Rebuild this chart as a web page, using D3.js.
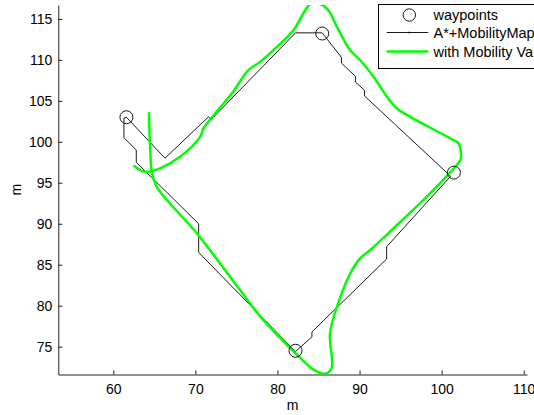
<!DOCTYPE html>
<html>
<head>
<meta charset="utf-8">
<script src="https://cdn.jsdelivr.net/npm/d3@7"></script>
<style>
  html, body { margin: 0; padding: 0; background: #fff; }
  svg { display: block; }
  text { font-family: Arial, "Liberation Sans", Helvetica, sans-serif; }
</style>
</head>
<body>
<svg id="chart" width="534" height="415"></svg>
<script>
// Waypoints visited by the route (metres)
const waypointsX = [61.6, 85.45, 101.5, 82.2];
const waypointsY = [103.0, 113.22, 96.24, 74.5];

// Grid planner path (A* over the mobility map), closed loop
const astarX = [61.6, 66.3, 71.6, 71.9, 82.2, 85.45, 87.8, 87.8, 89.5, 89.5, 90.6, 90.6,
                101.1, 93.3, 93.3, 84.2, 84.2, 82.2, 70.4, 70.4, 62.8, 62.8, 61.3, 61.3, 61.6];
const astarY = [103.0, 98.0, 103.05, 102.7, 113.3, 113.3, 110.3, 109.6, 108.0, 107.3, 106.3, 105.6,
                95.8, 87.2, 85.7, 76.8, 76.2, 74.4, 86.5, 90.0, 97.5, 99.0, 100.5, 102.9, 103.0];

// Smoothed trajectory using mobility values
const mobilityX = [64.35, 64.5, 64.7, 65.3, 70.2, 75.45, 77.9, 82.4, 84.4, 85.8, 86.6, 86.4,
                   87.4, 88.9, 90.1, 91.3, 94.1, 98.2, 100.7, 102.3, 102.36, 102.07, 101.06,
                   96.18, 94.56, 93.34, 91.71, 90.09, 88.87, 87.04, 86.22, 85.2, 84.0, 83.38,
                   81.95, 79.93, 77.89, 76.46, 74.44, 72.4, 70.98, 70.57, 68.13, 65.7, 64.07,
                   63.26, 62.56];
const mobilityY = [103.5, 99.0, 96.3, 94.5, 88.8, 81.9, 78.7, 74.0, 72.2, 71.7, 72.4, 76.6,
                   80.3, 84.0, 85.8, 86.8, 89.4, 93.3, 95.9, 97.8, 98.6, 99.8, 100.41,
                   103.05, 104.07, 105.49, 107.93, 109.96, 111.18, 114.44, 116.06, 116.8, 116.8, 116.06,
                   113.62, 111.59, 109.76, 108.74, 105.9, 103.46, 101.63, 100.61, 98.17, 96.76, 96.34,
                   96.55, 97.04];

const xTicks = [60, 70, 80, 90, 100, 110];
const yTicks = [75, 80, 85, 90, 95, 100, 105, 110, 115];
const legendLabels = ["waypoints", "A*+MobilityMap", "with Mobility Values"];

const svg = d3.select("#chart");
const plot = { left: 58.3, right: 527, top: 5, bottom: 374.5 };

const x = d3.scaleLinear().domain([53.3, 110.4]).range([plot.left, plot.right]);
const y = d3.scaleLinear().domain([71.6, 116.7]).range([plot.bottom, plot.top]);

svg.append("defs").append("clipPath").attr("id", "plotClip")
  .append("rect")
  .attr("x", plot.left).attr("y", plot.top)
  .attr("width", plot.right - plot.left).attr("height", plot.bottom - plot.top);

const fontSize = "14px";
const legendFontSize = "14.5px";

// Axes with inward ticks
const xAxis = d3.axisBottom(x).tickValues(xTicks).tickSizeInner(-4).tickSizeOuter(0).tickPadding(10);
const yAxis = d3.axisLeft(y).tickValues(yTicks).tickSizeInner(-4).tickSizeOuter(0).tickPadding(6);

const gx = svg.append("g").attr("transform", `translate(0,${plot.bottom})`).call(xAxis);
const gy = svg.append("g").attr("transform", `translate(${plot.left},0)`).call(yAxis);
[gx, gy].forEach(g => {
  g.select(".domain").attr("stroke", "#222").attr("stroke-width", 1);
  g.selectAll(".tick line").attr("stroke", "#222");
  g.selectAll(".tick text").attr("font-size", fontSize).attr("fill", "#000")
    .attr("font-family", "Arial, 'Liberation Sans', Helvetica, sans-serif");
});

svg.append("text").attr("x", (plot.left + plot.right) / 2).attr("y", 410)
  .attr("text-anchor", "middle").attr("font-size", fontSize).text("m");
svg.append("text").attr("transform", `translate(21,${(plot.top + plot.bottom) / 2}) rotate(-90)`)
  .attr("text-anchor", "middle").attr("font-size", fontSize).text("m");

const layer = svg.append("g").attr("clip-path", "url(#plotClip)");

// A* path
const astarLine = d3.line().x(i => x(astarX[i])).y(i => y(astarY[i]));
layer.append("path")
  .attr("d", astarLine(d3.range(astarX.length)))
  .attr("fill", "none").attr("stroke", "#000").attr("stroke-width", 0.9)
  .attr("stroke-linejoin", "miter");

// Mobility-value trajectory
const mobLine = d3.line().curve(d3.curveCatmullRom.alpha(0.5))
  .x(i => x(mobilityX[i])).y(i => y(mobilityY[i]));
layer.append("path")
  .attr("d", mobLine(d3.range(mobilityX.length)))
  .attr("fill", "none").attr("stroke", "#00ff00").attr("stroke-width", 2.5)
  .attr("stroke-linejoin", "round").attr("stroke-linecap", "round");

// Waypoint markers
svg.append("g").selectAll("circle")
  .data(d3.range(waypointsX.length))
  .join("circle")
  .attr("cx", i => x(waypointsX[i])).attr("cy", i => y(waypointsY[i]))
  .attr("r", 6.5).attr("fill", "none").attr("stroke", "#000").attr("stroke-width", 0.9);

// Legend (box runs past the right edge of the figure)
const lg = svg.append("g");
lg.append("rect").attr("x", 378.5).attr("y", 4.5).attr("width", 200).attr("height", 64)
  .attr("fill", "#fff").attr("stroke", "#000").attr("stroke-width", 1);
const rows = [15, 32.5, 51.5];
lg.append("circle").attr("cx", 409.3).attr("cy", rows[0]).attr("r", 6.2)
  .attr("fill", "none").attr("stroke", "#000").attr("stroke-width", 0.9);
lg.append("line").attr("x1", 386.7).attr("x2", 428.3).attr("y1", rows[1]).attr("y2", rows[1])
  .attr("stroke", "#000").attr("stroke-width", 0.9);
lg.append("line").attr("x1", 409.3).attr("x2", 409.3).attr("y1", rows[1] - 1).attr("y2", rows[1] + 1)
  .attr("stroke", "#000").attr("stroke-width", 0.8);
lg.append("line").attr("x1", 386.7).attr("x2", 428.3).attr("y1", rows[2]).attr("y2", rows[2])
  .attr("stroke", "#00ff00").attr("stroke-width", 2.5);
lg.selectAll("text.lab").data(legendLabels).join("text").attr("class", "lab")
  .attr("x", 433.5).attr("y", (d, i) => rows[i]).attr("dy", "0.35em")
  .attr("font-size", legendFontSize).text(d => d);
</script>
</body>
</html>
